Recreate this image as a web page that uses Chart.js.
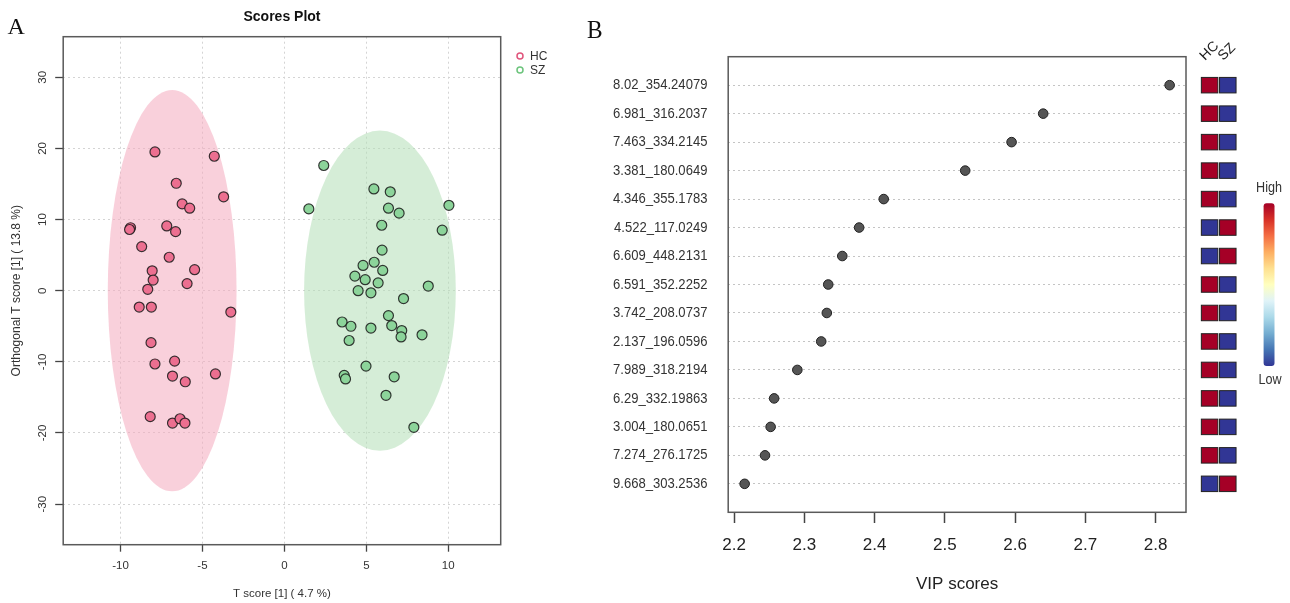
<!DOCTYPE html>
<html>
<head>
<meta charset="utf-8">
<script src="https://cdn.jsdelivr.net/npm/chart.js@4.4.0/dist/chart.umd.min.js"></script>
<style>
  html, body { margin: 0; padding: 0; background: #fff; }
  #wrap { position: relative; width: 1290px; height: 603px; overflow: hidden; }
  .panel { position: absolute; top: 0; }
  #left { left: 0; width: 580px; height: 603px; }
  #right { left: 580px; width: 710px; height: 603px; }
</style>
</head>
<body>
<div id="wrap">
  <div class="panel" id="left"><canvas id="scores" width="580" height="603"></canvas></div>
  <div class="panel" id="right"><canvas id="vip" width="710" height="603"></canvas></div>
</div>
<script>
// ========== panel A data: OPLS-DA scores ==========
const HC_X = [-7.9, -4.28, -6.6, -3.71, -6.24, -5.78, -9.39, -9.45, -7.18, -6.64, -8.71, -7.03, -8.07, -5.48, -8.01,
  -5.94, -8.34, -8.86, -8.12, -3.27, -8.14, -6.7, -7.9, -6.83, -6.05, -4.21, -8.19, -6.83, -6.37, -6.07];
const HC_Y = [19.5, 18.9, 15.1, 13.2, 12.2, 11.6, 8.85, 8.6, 9.1, 8.3, 6.2, 4.7, 2.8, 2.95, 1.5,
  1.0, 0.2, -2.3, -2.3, -3.0, -7.3, -9.9, -10.3, -12.0, -12.8, -11.7, -17.7, -18.6, -18.0, -18.6];
const SZ_X = [2.4, 1.49, 5.46, 6.46, 6.35, 7.0, 10.04, 5.94, 9.63, 5.96, 4.8, 5.48, 6.0, 4.3, 4.93, 5.72, 8.78, 4.5,
  5.28, 7.27, 6.35, 3.52, 4.06, 5.28, 6.55, 7.16, 7.12, 8.4, 3.95, 4.98, 3.65, 3.73, 6.7, 6.2, 7.9];
const SZ_Y = [17.6, 11.5, 14.3, 13.9, 11.6, 10.9, 12.0, 9.2, 8.5, 5.7, 3.55, 4.0, 2.85, 2.05, 1.55, 1.1, 0.65, 0.0,
  -0.3, -1.1, -3.5, -4.4, -5.0, -5.25, -4.9, -5.6, -6.5, -6.2, -7.0, -10.6, -11.9, -12.4, -12.1, -14.7, -19.2];

const GROUPS = ["HC", "SZ"];
// 95% confidence ellipses (centre and half axes, data units)
const ELL_CX = [-6.85, 5.83];
const ELL_CY = [0, 0];
const ELL_RX = [3.93, 4.63];
const ELL_RY = [28.2, 22.5];

const SCORE_X_TICKS = [-10, -5, 0, 5, 10];
const SCORE_Y_TICKS = [-30, -20, -10, 0, 10, 20, 30];

// ========== panel B data: VIP scores ==========
const VIP_NAMES = ["8.02_354.24079", "6.981_316.2037", "7.463_334.2145", "3.381_180.0649", "4.346_355.1783",
  "4.522_117.0249", "6.609_448.2131", "6.591_352.2252", "3.742_208.0737", "2.137_196.0596",
  "7.989_318.2194", "6.29_332.19863", "3.004_180.0651", "7.274_276.1725", "9.668_303.2536"];
const VIP_SCORES = [2.82, 2.64, 2.595, 2.529, 2.413, 2.378, 2.354, 2.334, 2.332, 2.324, 2.29, 2.257, 2.252, 2.244, 2.215];
const HC_LEVEL = [1, 1, 1, 1, 1, 0, 0, 1, 1, 1, 1, 1, 1, 1, 0];
const SZ_LEVEL = [0, 0, 0, 0, 0, 1, 1, 0, 0, 0, 0, 0, 0, 0, 1];
const VIP_TICKS = [2.2, 2.3, 2.4, 2.5, 2.6, 2.7, 2.8];

// ========== styles ==========
const SANS = "'Liberation Sans', Arial, sans-serif";
const SERIF = "'Liberation Serif', 'Times New Roman', serif";
const GROUP_FILL = ["#ec6f90", "#8cd49a"];
const GROUP_EDGE = ["#e0557c", "#6cc47c"];
const ELL_FILL = ["rgba(244,170,190,0.55)", "rgba(178,222,182,0.55)"];
const RDYLBU = ["#313695", "#4575b4", "#74add1", "#abd9e9", "#e0f3f8", "#ffffbf", "#fee090", "#fdae61", "#f46d43", "#d73027", "#a50026"];

Chart.defaults.font.family = SANS;
Chart.defaults.color = "#333";

function squashText(ctx, txt, x, y, sx, align) {
  ctx.save();
  ctx.translate(x, y);
  ctx.scale(sx, 1);
  ctx.textAlign = align;
  ctx.fillText(txt, 0, 0);
  ctx.restore();
}

function heatColor(v) {
  const i = Math.round(v * (RDYLBU.length - 1));
  return RDYLBU[i];
}

// ========== panel A ==========
const scoresDecor = {
  id: "scoresDecor",
  beforeDatasetsDraw(chart) {
    const { ctx, scales: { x, y }, chartArea: a } = chart;
    ctx.save();
    ctx.beginPath();
    ctx.rect(a.left, a.top, a.right - a.left, a.bottom - a.top);
    ctx.clip();
    GROUPS.forEach((g, i) => {
      const cx = x.getPixelForValue(ELL_CX[i]);
      const cy = y.getPixelForValue(ELL_CY[i]);
      const rx = Math.abs(x.getPixelForValue(ELL_CX[i] + ELL_RX[i]) - cx);
      const ry = Math.abs(y.getPixelForValue(ELL_CY[i] + ELL_RY[i]) - cy);
      ctx.fillStyle = ELL_FILL[i];
      ctx.beginPath();
      ctx.ellipse(cx, cy, rx, ry, 0, 0, Math.PI * 2);
      ctx.fill();
    });
    ctx.restore();
  },
  afterDraw(chart) {
    const { ctx, chartArea: a } = chart;
    ctx.save();
    ctx.strokeStyle = "#5a5a5a";
    ctx.lineWidth = 1.5;
    ctx.strokeRect(a.left, a.top, a.right - a.left, a.bottom - a.top);

    ctx.fillStyle = "#111";
    ctx.textBaseline = "middle";
    ctx.textAlign = "center";
    ctx.font = "bold 14px " + SANS;
    ctx.fillText("Scores Plot", 282, 17.5);

    ctx.textBaseline = "alphabetic";
    ctx.textAlign = "left";
    ctx.font = "24px " + SERIF;
    ctx.fillText("A", 7.5, 34.3);

    // legend
    ctx.font = "12px " + SANS;
    ctx.textBaseline = "middle";
    GROUPS.forEach((g, i) => {
      const ly = 56 + i * 14;
      ctx.strokeStyle = GROUP_EDGE[i];
      ctx.lineWidth = 1.5;
      ctx.beginPath();
      ctx.arc(520, ly, 3, 0, Math.PI * 2);
      ctx.stroke();
      ctx.fillStyle = "#333";
      ctx.fillText(g, 530, ly + 0.5);
    });
    ctx.restore();
  },
};

new Chart(document.getElementById("scores"), {
  type: "scatter",
  data: {
    datasets: [
      { label: "HC", data: HC_X.map((v, i) => ({ x: v, y: HC_Y[i] })), backgroundColor: GROUP_FILL[0] },
      { label: "SZ", data: SZ_X.map((v, i) => ({ x: v, y: SZ_Y[i] })), backgroundColor: GROUP_FILL[1] },
    ],
  },
  options: {
    responsive: false,
    animation: false,
    devicePixelRatio: 1,
    layout: { padding: { top: 36.7, right: 79.3, bottom: 0, left: 0 } },
    elements: { point: { radius: 5, borderWidth: 1.2, borderColor: "rgba(25,25,25,0.85)" } },
    plugins: { legend: { display: false }, tooltip: { enabled: false } },
    scales: {
      x: {
        type: "linear",
        min: -13.5,
        max: 13.2,
        afterBuildTicks: (s) => { s.ticks = SCORE_X_TICKS.map((v) => ({ value: v })); },
        afterFit: (s) => { s.height = 58.3; },
        grid: { color: "#d4d4d4", tickColor: "#444", tickLength: 7, tickWidth: 1.3 },
        border: { display: false, dash: [2, 3] },
        ticks: { font: { size: 11.5 }, color: "#333", padding: 7.5, maxRotation: 0 },
        title: { display: true, text: "T score [1] ( 4.7 %)", font: { size: 11.5 }, color: "#333", padding: { top: 0, bottom: 2.5 } },
      },
      y: {
        type: "linear",
        min: -35.7,
        max: 35.7,
        afterBuildTicks: (s) => { s.ticks = SCORE_Y_TICKS.map((v) => ({ value: v })); },
        afterFit: (s) => { s.width = 63.2; },
        grid: { color: "#d4d4d4", tickColor: "#444", tickLength: 8, tickWidth: 1.3 },
        border: { display: false, dash: [2, 3] },
        ticks: { font: { size: 11.5 }, color: "#333", padding: 4, minRotation: 90, maxRotation: 90, crossAlign: "center" },
        title: { display: true, text: "Orthogonal T score [1] ( 13.8 %)", font: { size: 12 }, color: "#333", padding: { top: 9.4, bottom: 0 } },
      },
    },
  },
  plugins: [scoresDecor],
});

// ========== panel B ==========
const LABEL_GAP = 20.8;
const CELL_X = [629.6, 647.8];
const CELL_W = 16.5;
const CELL_H = 15.5;

const vipDecor = {
  id: "vipDecor",
  afterDraw(chart) {
    const { ctx, chartArea: a, scales: { y } } = chart;
    ctx.save();
    ctx.strokeStyle = "#5a5a5a";
    ctx.lineWidth = 1.5;
    ctx.strokeRect(a.left, a.top, a.right - a.left, a.bottom - a.top);

    // row labels
    ctx.fillStyle = "#333";
    ctx.textBaseline = "middle";
    ctx.font = "15px " + SANS;
    VIP_NAMES.forEach((n, i) => {
      squashText(ctx, n, a.left - LABEL_GAP, y.getPixelForValue(i + 1), 0.87, "right");
    });

    // group mean heat cells
    [HC_LEVEL, SZ_LEVEL].forEach((lev, c) => {
      lev.forEach((v, i) => {
        const py = y.getPixelForValue(i + 1);
        ctx.fillStyle = heatColor(v);
        ctx.fillRect(CELL_X[c] - CELL_W / 2, py - CELL_H / 2, CELL_W, CELL_H);
        ctx.strokeStyle = "#222";
        ctx.lineWidth = 1;
        ctx.strokeRect(CELL_X[c] - CELL_W / 2, py - CELL_H / 2, CELL_W, CELL_H);
      });
    });

    // column headers
    ctx.fillStyle = "#222";
    ctx.font = "14px " + SANS;
    ctx.textBaseline = "alphabetic";
    GROUPS.forEach((g, c) => {
      ctx.save();
      ctx.translate(CELL_X[c] - 4.5, 61);
      ctx.rotate(-Math.PI / 4);
      ctx.textAlign = "left";
      ctx.fillText(g, 0, 0);
      ctx.restore();
    });

    // colour key
    const gx = 683.6, gw = 10.9, gt = 203.3, gb = 366;
    const grad = ctx.createLinearGradient(0, gb, 0, gt);
    RDYLBU.forEach((c, i) => grad.addColorStop(i / (RDYLBU.length - 1), c));
    ctx.fillStyle = grad;
    ctx.beginPath();
    ctx.roundRect(gx, gt, gw, gb - gt, 3);
    ctx.fill();
    ctx.fillStyle = "#333";
    ctx.font = "14px " + SANS;
    ctx.textBaseline = "middle";
    squashText(ctx, "High", gx + gw / 2, 188.3, 0.9, "center");
    squashText(ctx, "Low", gx + gw / 2 + 1, 380, 0.9, "center");

    ctx.fillStyle = "#111";
    ctx.textBaseline = "alphabetic";
    ctx.font = "26px " + SERIF;
    squashText(ctx, "B", 7, 38.3, 0.9, "left");
    ctx.restore();
  },
};

new Chart(document.getElementById("vip"), {
  type: "scatter",
  data: {
    datasets: [
      {
        label: "VIP",
        data: VIP_SCORES.map((v, i) => ({ x: v, y: i + 1 })),
        backgroundColor: "#555",
        borderColor: "#222",
        borderWidth: 1,
        pointRadius: 4.8,
      },
    ],
  },
  options: {
    responsive: false,
    animation: false,
    devicePixelRatio: 1,
    layout: { padding: { top: 56.7, right: 104, bottom: 0, left: 0 } },
    plugins: { legend: { display: false }, tooltip: { enabled: false } },
    scales: {
      x: {
        type: "linear",
        min: 2.1916,
        max: 2.8433,
        afterBuildTicks: (s) => { s.ticks = VIP_TICKS.map((v) => ({ value: v })); },
        afterFit: (s) => { s.height = 90.7; },
        grid: { drawOnChartArea: false, tickColor: "#444", tickLength: 10.7, tickWidth: 1.5 },
        border: { display: false },
        ticks: { font: { size: 17 }, color: "#222", padding: 12, maxRotation: 0 },
        title: { display: true, text: "VIP scores", font: { size: 17 }, color: "#222", padding: { top: 0, bottom: 8.8 } },
      },
      y: {
        type: "linear",
        min: 0,
        max: 16,
        reverse: true,
        afterBuildTicks: (s) => { s.ticks = VIP_NAMES.map((n, i) => ({ value: i + 1 })); },
        afterFit: (s) => { s.width = 148.2; },
        grid: { color: "#c4c4c4", drawTicks: false },
        border: { display: false, dash: [2, 3] },
        ticks: { display: false },
      },
    },
  },
  plugins: [vipDecor],
});
</script>
</body>
</html>
